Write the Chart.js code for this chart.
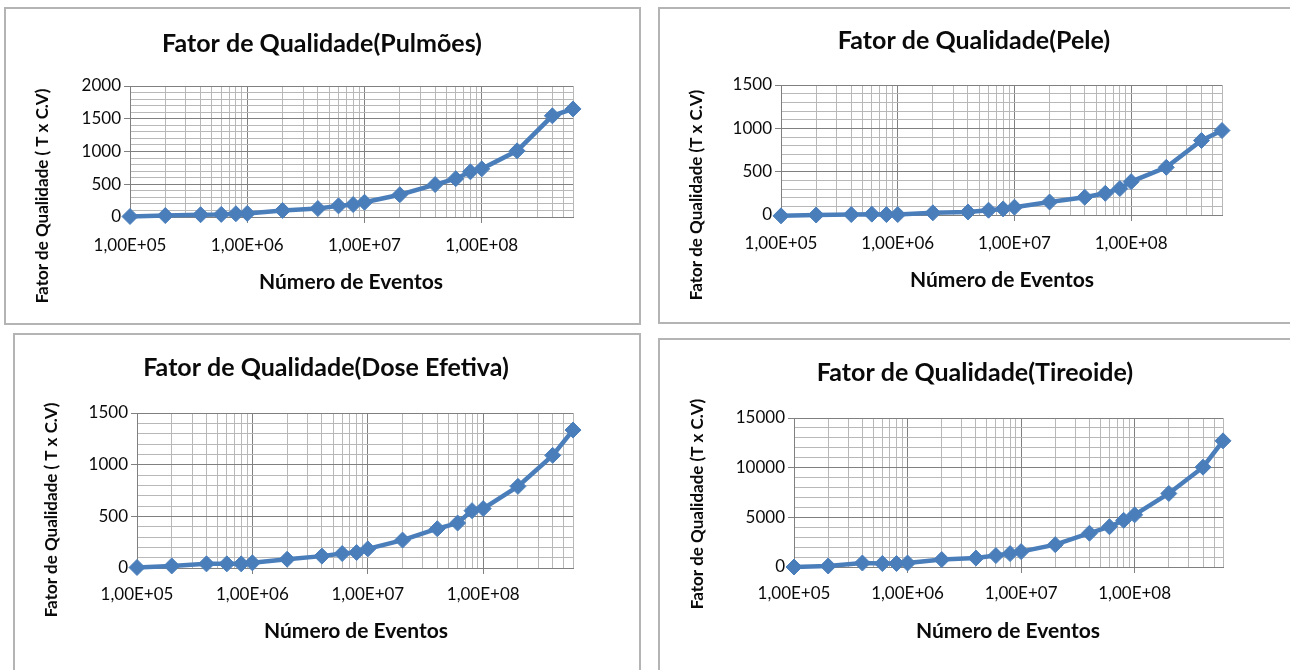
<!DOCTYPE html>
<html>
<head>
<meta charset="utf-8">
<script src="https://cdn.jsdelivr.net/npm/chart.js@4"></script>
<style>
  html, body { margin: 0; padding: 0; background: #fff; }
  body { width: 1290px; height: 670px; position: relative; overflow: hidden; }
  canvas { position: absolute; }
  .frame { position: absolute; box-sizing: border-box; border: 2px solid #b4b4b4; pointer-events: none; }
</style>
</head>
<body>
<script>
// Number of simulated events (x) shared by every panel
const eventCounts = [1e5, 2e5, 4e5, 6e5, 8e5, 1e6, 2e6, 4e6, 6e6, 8e6, 1e7, 2e7, 4e7, 6e7, 8e7, 1e8, 2e8, 4e8, 6e8];

// Quality factor (T x C.V) per organ
const pulmoes     = [8, 22, 35, 40, 50, 55, 100, 130, 170, 190, 225, 340, 495, 585, 690, 735, 1010, 1545, 1650];
const pele        = [-10, 0, 5, 10, 5, 5, 25, 35, 55, 70, 90, 150, 205, 250, 305, 385, 550, 860, 975];
const doseEfetiva = [5, 20, 40, 40, 40, 50, 85, 115, 140, 150, 185, 270, 380, 435, 555, 575, 790, 1090, 1335];
const tireoide    = [0, 100, 400, 350, 350, 400, 750, 900, 1150, 1350, 1550, 2250, 3400, 4050, 4700, 5250, 7400, 10050, 12700];

// Axis ticks
const decades = [1e5, 1e6, 1e7, 1e8];
const xTickLabels = ['1,00E+05', '1,00E+06', '1,00E+07', '1,00E+08'];
const xMax = 6e8;
const yTicksPulmoes  = [0, 500, 1000, 1500, 2000];
const yTicksPele     = [0, 500, 1000, 1500];
const yTicksDose     = [0, 500, 1000, 1500];
const yTicksTireoide = [0, 5000, 10000, 15000];

const FONT = 'Lato, "Open Sans", sans-serif';
const LINE_BLUE = '#4a7ebb';
const GRID_MAJOR = '#808080';
const GRID_MINOR = '#b8b8b8';
const TEXT = '#0a0a0a';

// grid lines at 1..9 x 10^n inside the x range
const xGrid = [];
decades.forEach(d => { for (let k = 1; k <= 9; k++) { if (k * d <= xMax) xGrid.push(k * d); } });

const panels = [
  { title: 'Fator de Qualidade(Pulmões)', yTitle: 'Fator de Qualidade ( T x C.V)', values: pulmoes,
    yTicks: yTicksPulmoes, minorStep: 100,
    box: { l: 4, t: 7, r: 641, b: 325 }, plot: { l: 130, t: 86, r: 573, b: 217 },
    titleAt: [322, 44], yTitleAt: [43, 196], xTitleAt: [351, 282], xLabelPad: 12 },
  { title: 'Fator de Qualidade(Pele)', yTitle: 'Fator de Qualidade (T x C.V)', values: pele,
    yTicks: yTicksPele, minorStep: 100,
    box: { l: 658, t: 7, r: 1296, b: 324 }, plot: { l: 781, t: 85, r: 1222, b: 215 },
    titleAt: [974, 41], yTitleAt: [697, 195], xTitleAt: [1002, 280], xLabelPad: 12 },
  { title: 'Fator de Qualidade(Dose Efetiva)', yTitle: 'Fator de Qualidade ( T x C.V)', values: doseEfetiva,
    yTicks: yTicksDose, minorStep: 100,
    box: { l: 13, t: 333, r: 641, b: 676 }, plot: { l: 137, t: 413, r: 573, b: 568 },
    titleAt: [326, 368], yTitleAt: [52, 510], xTitleAt: [356, 631], xLabelPad: 10 },
  { title: 'Fator de Qualidade(Tireoide)', yTitle: 'Fator de Qualidade (T x C.V)', values: tireoide,
    yTicks: yTicksTireoide, minorStep: 1000,
    box: { l: 658, t: 338, r: 1296, b: 676 }, plot: { l: 794, t: 418, r: 1223, b: 567 },
    titleAt: [975, 373], yTitleAt: [698, 504], xTitleAt: [1008, 631], xLabelPad: 10 }
];

// Titles drawn in panel coordinates
const panelText = {
  id: 'panelText',
  afterDraw(chart, args, o) {
    const ctx = chart.ctx;
    ctx.save();
    ctx.fillStyle = TEXT;
    ctx.textAlign = 'center';
    ctx.textBaseline = 'middle';
    ctx.font = 'bold 25px ' + FONT;
    ctx.fillText(o.title, o.titleAt[0], o.titleAt[1]);
    ctx.font = 'bold 21px ' + FONT;
    ctx.fillText('Número de Eventos', o.xTitleAt[0], o.xTitleAt[1]);
    ctx.translate(o.yTitleAt[0], o.yTitleAt[1]);
    ctx.rotate(-Math.PI / 2);
    ctx.font = 'bold 17px ' + FONT;
    ctx.fillText(o.yTitle, 0, 0);
    ctx.restore();
  }
};

panels.forEach(p => {
  const W = p.box.r - p.box.l, H = p.box.b - p.box.t;
  const canvas = document.createElement('canvas');
  canvas.width = W; canvas.height = H;
  canvas.style.left = p.box.l + 'px'; canvas.style.top = p.box.t + 'px';
  canvas.style.width = W + 'px'; canvas.style.height = H + 'px';
  document.body.appendChild(canvas);
  const frame = document.createElement('div');
  frame.className = 'frame';
  Object.assign(frame.style, { left: p.box.l + 'px', top: p.box.t + 'px', width: W + 'px', height: H + 'px' });
  document.body.appendChild(frame);

  const yMajor = p.yTicks[1] - p.yTicks[0];
  const isYMajor = v => Math.abs(v % yMajor) < 1e-6;
  const isXMajor = v => decades.includes(v);

  new Chart(canvas, {
    type: 'line',
    data: {
      datasets: [{
        data: eventCounts.map((x, i) => ({ x, y: p.values[i] })),
        borderColor: LINE_BLUE,
        backgroundColor: LINE_BLUE,
        borderWidth: 4.5,
        pointStyle: 'rectRot',
        pointRadius: 8,
        pointBorderWidth: 1,
        pointBorderColor: LINE_BLUE,
        pointBackgroundColor: LINE_BLUE,
        tension: 0,
        clip: false
      }]
    },
    options: {
      responsive: false,
      animation: false,
      devicePixelRatio: 1,
      events: [],
      layout: { padding: { left: 0, top: p.plot.t - p.box.t, right: p.box.r - p.plot.r, bottom: 0 } },
      plugins: {
        legend: { display: false },
        tooltip: { enabled: false },
        panelText: {
          title: p.title, yTitle: p.yTitle,
          titleAt: [p.titleAt[0] - p.box.l, p.titleAt[1] - p.box.t],
          yTitleAt: [p.yTitleAt[0] - p.box.l, p.yTitleAt[1] - p.box.t],
          xTitleAt: [p.xTitleAt[0] - p.box.l, p.xTitleAt[1] - p.box.t]
        }
      },
      scales: {
        x: {
          type: 'logarithmic',
          min: decades[0], max: xMax,
          afterBuildTicks: axis => { axis.ticks = xGrid.map(v => ({ value: v, major: isXMajor(v) })); },
          afterFit: s => { s.height = p.box.b - p.plot.b; },
          border: { color: GRID_MAJOR, width: 1 },
          grid: {
            color: c => (c.tick && isXMajor(c.tick.value)) ? GRID_MAJOR : GRID_MINOR,
            tickColor: c => (c.tick && isXMajor(c.tick.value)) ? GRID_MAJOR : 'rgba(0,0,0,0)',
            tickLength: 6, lineWidth: 1
          },
          ticks: {
            autoSkip: false, maxRotation: 0, padding: p.xLabelPad,
            color: TEXT, font: { family: FONT, size: 17 },
            callback: v => { const i = decades.indexOf(v); return i >= 0 ? xTickLabels[i] : ''; }
          }
        },
        y: {
          type: 'linear',
          min: p.yTicks[0], max: p.yTicks[p.yTicks.length - 1],
          afterFit: s => { s.width = p.plot.l - p.box.l; },
          border: { color: GRID_MAJOR, width: 1 },
          grid: {
            color: c => (c.tick && isYMajor(c.tick.value)) ? GRID_MAJOR : GRID_MINOR,
            tickColor: c => (c.tick && isYMajor(c.tick.value)) ? GRID_MAJOR : 'rgba(0,0,0,0)',
            tickLength: 6, lineWidth: 1
          },
          ticks: {
            stepSize: p.minorStep, autoSkip: false, padding: 3,
            color: TEXT, font: { family: FONT, size: 17 },
            callback: v => p.yTicks.includes(v) ? String(v) : ''
          }
        }
      }
    },
    plugins: [panelText]
  });
});
</script>
</body>
</html>
